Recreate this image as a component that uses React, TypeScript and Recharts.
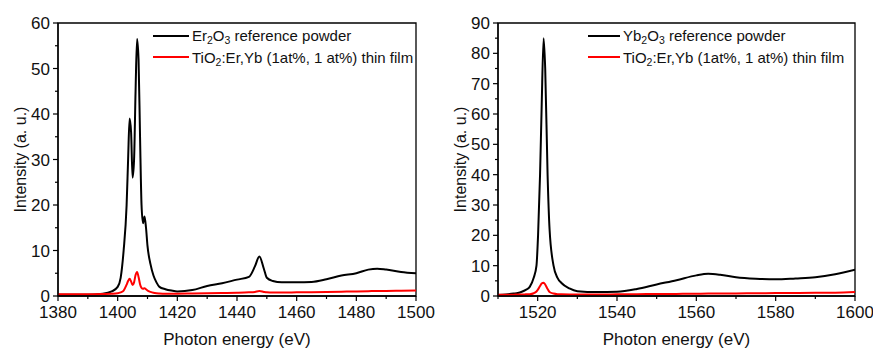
import { LineChart, Line, XAxis, YAxis, ReferenceArea, Legend } from "recharts";

const FONT = '"Liberation Sans", Arial, sans-serif';

// --- Er panel (left) ---
const erEnergy = [
  1380, 1390, 1395, 1398, 1400, 1401, 1402, 1403, 1403.5, 1404, 1404.5, 1405, 1405.5, 1406, 1406.5,
  1407, 1407.5, 1408, 1408.5, 1409, 1409.5, 1410, 1411, 1412, 1413, 1414, 1416, 1418, 1420, 1425,
  1430, 1435, 1440, 1444, 1446, 1447.5, 1449, 1450, 1452, 1455, 1460, 1465, 1470, 1475, 1480, 1484,
  1487, 1490, 1495, 1500,
];
const erPowder = [
  0.3, 0.3, 0.5, 1.0, 2.0, 4.0, 10, 20, 30, 39, 36, 26, 30, 45, 56.5,
  52, 35, 20, 16, 17.5, 15, 11, 7, 4.5, 3, 2, 1.5, 1.2, 1.0, 1.3,
  2.2, 2.8, 3.6, 4.2, 6.5, 8.7, 6.0, 4.0, 3.3, 3.0, 3.0, 3.1, 3.7, 4.5, 5.0, 5.8,
  6.0, 5.8, 5.3, 5.0,
];
const erFilm = [
  0.4, 0.4, 0.45, 0.5, 0.6, 0.8, 1.2, 2.5, 3.3, 3.8, 3.2, 2.4, 3.0, 4.6, 5.3,
  4.2, 2.6, 1.8, 1.6, 1.7, 1.5, 1.2, 0.9, 0.7, 0.6, 0.55, 0.5, 0.5, 0.5, 0.55,
  0.6, 0.65, 0.7, 0.8, 0.9, 1.1, 0.9, 0.8, 0.75, 0.75, 0.8, 0.85, 0.9, 0.95, 1.0, 1.05,
  1.1, 1.1, 1.15, 1.2,
];
const erXTicks = [1380, 1390, 1400, 1410, 1420, 1430, 1440, 1450, 1460, 1470, 1480, 1490, 1500];
const erYTicks = [0, 5, 10, 15, 20, 25, 30, 35, 40, 45, 50, 55, 60];

// --- Yb panel (right) ---
const ybEnergy = [
  1510, 1512, 1514, 1515, 1516, 1517, 1518, 1519, 1519.7, 1520.1, 1520.6, 1521.0, 1521.5, 1521.9,
  1522.5, 1523, 1524, 1525, 1526, 1528, 1530, 1535, 1540, 1545, 1550, 1555, 1560, 1563, 1566, 1570,
  1575, 1580, 1585, 1590, 1595, 1600,
];
const ybPowder = [
  0.3, 0.5, 0.8, 1.0, 1.4, 2.0, 3.0, 6.0, 10, 20, 40, 62, 85, 75,
  40, 22, 10, 6, 4.3, 2.5, 1.6, 1.3, 1.4, 2.3, 3.8, 5.2, 6.8, 7.3, 7.0, 6.2,
  5.7, 5.5, 5.8, 6.2, 7.2, 8.7,
];
const ybFilm = [
  0.4, 0.4, 0.45, 0.5, 0.5, 0.55, 0.6, 0.9, 1.5, 2.2, 3.3, 4.1, 4.4, 3.8,
  2.3, 1.3, 0.8, 0.6, 0.55, 0.5, 0.5, 0.5, 0.55, 0.6, 0.65, 0.7, 0.75, 0.8, 0.8, 0.85,
  0.9, 0.95, 1.0, 1.05, 1.1, 1.3,
];
const ybXTicks = [1510, 1520, 1530, 1540, 1550, 1560, 1570, 1580, 1590, 1600];
const ybYTicks = [0, 5, 10, 15, 20, 25, 30, 35, 40, 45, 50, 55, 60, 65, 70, 75, 80, 85, 90];

const seriesOrder = ["powder", "film"];

const erData = erEnergy.map((e, i) => ({ e, powder: erPowder[i], film: erFilm[i] }));
const ybData = ybEnergy.map((e, i) => ({ e, powder: ybPowder[i], film: ybFilm[i] }));

const Sub = ({ children }: any) => (
  <sub style={{ fontSize: "0.7em", verticalAlign: "-0.3em", lineHeight: 0 }}>{children}</sub>
);

const filmLabel = (
  <>
    TiO<Sub>2</Sub>:Er,Yb (1at%, 1 at%) thin film
  </>
);

// ticks drawn by hand so minor ticks can be shorter and unlabeled
const XTick = ({ x, y, payload }: any) => {
  const major = payload.value % 20 === 0;
  return (
    <g>
      <line x1={x} y1={y} x2={x} y2={y + (major ? 5 : 3)} stroke="#000" strokeWidth={1.2} />
      {major && (
        <text x={x} y={y + 22} textAnchor="middle" fontSize={17} fill="#111" fontFamily={FONT}>
          {payload.value}
        </text>
      )}
    </g>
  );
};

const YTick = ({ x, y, payload }: any) => {
  const major = payload.value % 10 === 0;
  return (
    <g>
      <line x1={x} y1={y} x2={x - (major ? 5 : 3)} y2={y} stroke="#000" strokeWidth={1.2} />
      {major && (
        <text x={x - 8} y={y} dy="0.36em" textAnchor="end" fontSize={17} fill="#111" fontFamily={FONT}>
          {payload.value}
        </text>
      )}
    </g>
  );
};

const XTitle = ({ viewBox }: any) => (
  <text x={viewBox.x + viewBox.width / 2} y={345} textAnchor="middle" fontSize={17} fill="#111" fontFamily={FONT}>
    Photon energy (eV)
  </text>
);

const YTitle = ({ viewBox }: any) => {
  const cy = viewBox.y + viewBox.height / 2;
  return (
    <text
      x={20}
      y={cy}
      transform={`rotate(-90 20 ${cy})`}
      dy="0.36em"
      textAnchor="middle"
      fontSize={16}
      fill="#111"
      fontFamily={FONT}
    >
      Intensity (a. u.)
    </text>
  );
};

const makeLegend = (labels: Record<string, any>, lineW: number, gap: number) => ({ payload }: any) => {
  const items = [...(payload || [])].sort(
    (a: any, b: any) => seriesOrder.indexOf(a.dataKey) - seriesOrder.indexOf(b.dataKey)
  );
  return (
    <div style={{ fontFamily: FONT, fontSize: 15, color: "#111" }}>
      {items.map((p: any) => (
        <div key={p.dataKey} style={{ display: "flex", alignItems: "center", height: 21.5, whiteSpace: "nowrap" }}>
          <span style={{ display: "inline-block", width: lineW, height: 2, background: p.color, marginRight: gap }} />
          <span>{labels[p.dataKey]}</span>
        </div>
      ))}
    </div>
  );
};

interface PanelProps {
  data: { e: number; powder: number; film: number }[];
  xDomain: [number, number];
  yDomain: [number, number];
  xTicks: number[];
  yTicks: number[];
  width: number;
  right: number;
  legend: any;
  legendLeft: number;
}

const Panel = ({ data, xDomain, yDomain, xTicks, yTicks, width, right, legend, legendLeft }: PanelProps) => (
  <LineChart width={width} height={350} data={data} margin={{ top: 23, right, bottom: 0, left: 0 }}>
    <XAxis
      dataKey="e"
      type="number"
      domain={xDomain}
      ticks={xTicks}
      interval={0}
      allowDataOverflow
      height={54}
      tickSize={0}
      tickMargin={0}
      tickLine={false}
      tick={(p: any) => <XTick {...p} />}
      axisLine={{ stroke: "#000", strokeWidth: 1.3 }}
      label={{ content: XTitle }}
    />
    <YAxis
      type="number"
      domain={yDomain}
      ticks={yTicks}
      interval={0}
      allowDataOverflow
      width={58}
      tickSize={0}
      tickMargin={0}
      tickLine={false}
      tick={(p: any) => <YTick {...p} />}
      axisLine={{ stroke: "#000", strokeWidth: 1.3 }}
      label={{ content: YTitle }}
    />
    <ReferenceArea
      x1={xDomain[0]}
      x2={xDomain[1]}
      y1={yDomain[0]}
      y2={yDomain[1]}
      fill="none"
      fillOpacity={0}
      stroke="#000"
      strokeWidth={1.3}
    />
    <Legend
      layout="horizontal"
      verticalAlign="middle"
      content={legend}
      wrapperStyle={{ left: legendLeft, top: 25, width: "auto" }}
    />
    <Line
      type="monotone"
      dataKey="powder"
      stroke="#000"
      strokeWidth={2}
      dot={false}
      isAnimationActive={false}
    />
    <Line
      type="monotone"
      dataKey="film"
      stroke="#ff0000"
      strokeWidth={2}
      dot={false}
      isAnimationActive={false}
    />
  </LineChart>
);

const erLegend = makeLegend(
  {
    powder: (
      <>
        Er<Sub>2</Sub>O<Sub>3</Sub> reference powder
      </>
    ),
    film: filmLabel,
  },
  36,
  3
);

const ybLegend = makeLegend(
  {
    powder: (
      <>
        Yb<Sub>2</Sub>O<Sub>3</Sub> reference powder
      </>
    ),
    film: filmLabel,
  },
  32,
  3
);

export default function App() {
  return (
    <div style={{ position: "absolute", left: 0, top: 0, width: 873, height: 350, background: "#fff", display: "flex" }}>
      <Panel
        data={erData}
        xDomain={[1380, 1500]}
        yDomain={[0, 60]}
        xTicks={erXTicks}
        yTicks={erYTicks}
        width={440}
        right={24}
        legend={erLegend}
        legendLeft={153}
      />
      <Panel
        data={ybData}
        xDomain={[1510, 1600]}
        yDomain={[0, 90]}
        xTicks={ybXTicks}
        yTicks={ybYTicks}
        width={433}
        right={18}
        legend={ybLegend}
        legendLeft={148}
      />
    </div>
  );
}
